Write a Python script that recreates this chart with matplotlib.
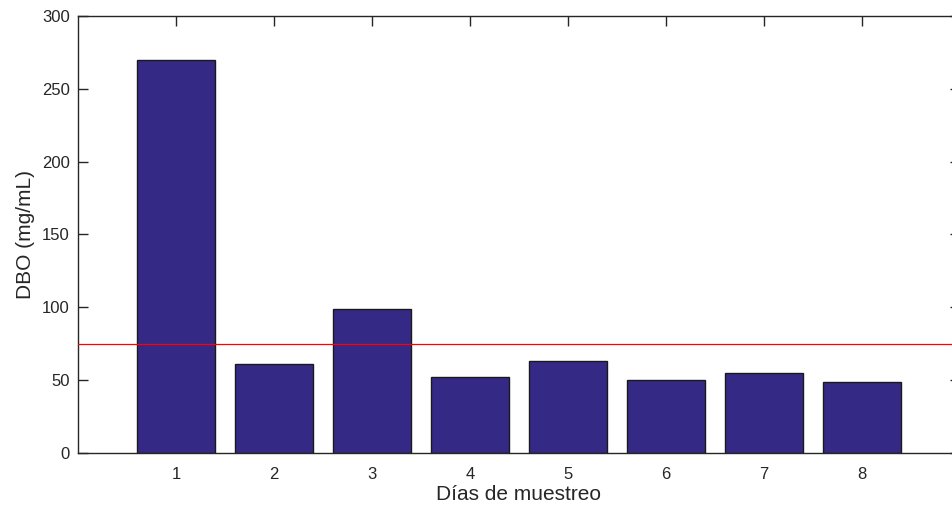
import matplotlib
matplotlib.use("Agg")
import matplotlib.pyplot as plt

days = [1, 2, 3, 4, 5, 6, 7, 8]
dbo = [270, 61, 99, 52, 63, 50, 55, 49]
limit_value = 75
x_ticks = [1, 2, 3, 4, 5, 6, 7, 8]
y_ticks = [0, 50, 100, 150, 200, 250, 300]

plt.rcParams['font.family'] = ['Liberation Sans', 'DejaVu Sans']
fig = plt.figure(figsize=(9.53, 5.07), dpi=100)
W, H = 953, 507
left, right, top, bottom = 78, 960, 16, 453
ax = fig.add_axes([left / W, 1 - bottom / H, (right - left) / W, (bottom - top) / H])

ax.bar(days, dbo, width=0.8, color='#342A86', edgecolor='#1a1a1a', linewidth=1.0, zorder=2)
ax.axhline(limit_value, color='#FF0000', linewidth=0.9, zorder=3)

ax.set_xlim(0, 9)
ax.set_ylim(0, 300)
ax.set_xticks(x_ticks)
ax.set_yticks(y_ticks)
ax.tick_params(direction='in', length=7, width=1, colors='#262626', labelsize=12,
               top=True, right=True)
ax.tick_params(axis='x', pad=10)
ax.tick_params(axis='y', pad=6)
for s in ax.spines.values():
    s.set_color('#262626')
    s.set_linewidth(1)
ax.set_xlabel('Días de muestreo', fontsize=15, color='#262626', labelpad=2)
ax.set_ylabel('DBO (mg/mL)', fontsize=15, color='#262626', labelpad=5)

fig.savefig('out.png', dpi=100)
